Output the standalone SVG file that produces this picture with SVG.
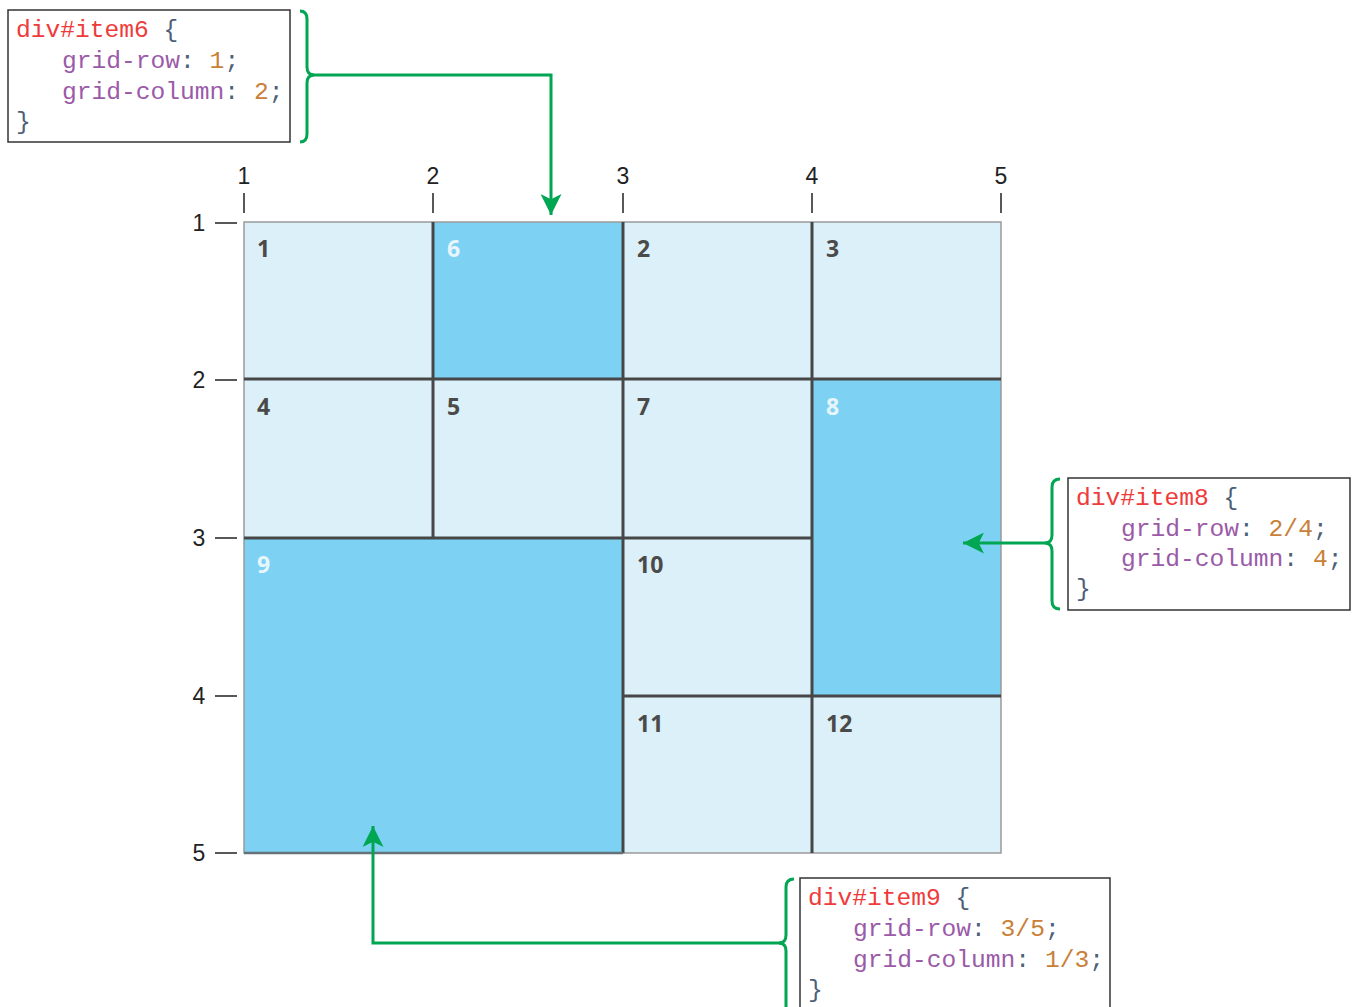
<svg xmlns="http://www.w3.org/2000/svg" width="1352" height="1007" viewBox="0 0 1352 1007">
<style>
.code{font-family:"Liberation Mono","DejaVu Sans Mono",monospace;font-size:24.6px}
.sel{fill:#ee3b3b}.prop{fill:#9b5aa8}.num{fill:#c98038}.pun{fill:#4e5f78}
.box{fill:#fff;stroke:#333;stroke-width:1.5}
.light{fill:#dbf0f8}.dark{fill:#7dd2f4}
.lbl{font-family:"Open Sans","DejaVu Sans",sans-serif;font-weight:bold;font-size:23px;fill:#4a4a4a}
.lblw{fill:#e8f6fc}
.ax{font-family:"Liberation Sans",Arial,sans-serif;font-size:23px;fill:#222}
.tick{stroke:#222;stroke-width:1.5}
.gl{stroke:#474747;stroke-width:3;fill:none}
.conn{stroke:#00a651;stroke-width:3;fill:none}
</style>
<defs>
<marker id="ah" viewBox="0 0 10 10" refX="10" refY="5" markerWidth="7" markerHeight="7" markerUnits="strokeWidth" orient="auto">
<path d="M0,0 L10,5 L0,10 L2.5,5 Z" fill="#00a651"/>
</marker>
</defs>
<g id="grid">
<rect class="light" x="244" y="222" width="757" height="631"/>
<rect class="dark" x="433" y="222" width="190" height="157"/>
<rect class="dark" x="812" y="379" width="189" height="317"/>
<rect class="dark" x="244" y="538" width="379" height="315"/>
<rect x="244" y="222" width="757" height="631" fill="none" stroke="#9a9a9a" stroke-width="1.5"/>
<path class="gl" d="M433,222 V538 M623,222 V853 M812,222 V853 M244,379 H1001 M244,538 H812 M623,696 H1001"/>
<path d="M244,853 H623" stroke="#66727a" stroke-width="2.5"/>
</g>
<g id="axes">
<text class="ax" x="244" y="184" text-anchor="middle">1</text>
<text class="ax" x="433" y="184" text-anchor="middle">2</text>
<text class="ax" x="623" y="184" text-anchor="middle">3</text>
<text class="ax" x="812" y="184" text-anchor="middle">4</text>
<text class="ax" x="1001" y="184" text-anchor="middle">5</text>
<path class="tick" d="M244,193 V213 M433,193 V213 M623,193 V213 M812,193 V213 M1001,193 V213"/>
<text class="ax" x="199" y="231" text-anchor="middle">1</text>
<text class="ax" x="199" y="388" text-anchor="middle">2</text>
<text class="ax" x="199" y="546" text-anchor="middle">3</text>
<text class="ax" x="199" y="704" text-anchor="middle">4</text>
<text class="ax" x="199" y="861" text-anchor="middle">5</text>
<path class="tick" d="M215,223 H237 M215,380 H237 M215,538 H237 M215,696 H237 M215,853 H237"/>
</g>
<g id="item1"><text class="lbl" x="257" y="257">1</text></g>
<g id="item6"><text class="lbl lblw" x="447" y="257">6</text></g>
<g id="item2"><text class="lbl" x="637" y="257">2</text></g>
<g id="item3"><text class="lbl" x="826" y="257">3</text></g>
<g id="item4"><text class="lbl" x="257" y="415">4</text></g>
<g id="item5"><text class="lbl" x="447" y="415">5</text></g>
<g id="item7"><text class="lbl" x="637" y="415">7</text></g>
<g id="item8"><text class="lbl lblw" x="826" y="415">8</text></g>
<g id="item9"><text class="lbl lblw" x="257" y="573">9</text></g>
<g id="item10"><text class="lbl" x="637" y="573">10</text></g>
<g id="item11"><text class="lbl" x="637" y="732">11</text></g>
<g id="item12"><text class="lbl" x="826" y="732">12</text></g>
<g id="code6">
<rect class="box" x="8" y="10" width="282" height="132"/>
<text class="code" x="16" y="37"><tspan class="sel">div#item6</tspan> <tspan class="pun">{</tspan></text>
<text class="code" x="62" y="68"><tspan class="prop">grid-row</tspan><tspan class="pun">:</tspan> <tspan class="num">1</tspan><tspan class="pun">;</tspan></text>
<text class="code" x="62" y="99"><tspan class="prop">grid-column</tspan><tspan class="pun">:</tspan> <tspan class="num">2</tspan><tspan class="pun">;</tspan></text>
<text class="code" x="16" y="129"><tspan class="pun">}</tspan></text>
</g>
<g id="code8">
<rect class="box" x="1068" y="478" width="282" height="132"/>
<text class="code" x="1076" y="505"><tspan class="sel">div#item8</tspan> <tspan class="pun">{</tspan></text>
<text class="code" x="1121" y="536"><tspan class="prop">grid-row</tspan><tspan class="pun">:</tspan> <tspan class="num">2/4</tspan><tspan class="pun">;</tspan></text>
<text class="code" x="1121" y="566"><tspan class="prop">grid-column</tspan><tspan class="pun">:</tspan> <tspan class="num">4</tspan><tspan class="pun">;</tspan></text>
<text class="code" x="1076" y="596"><tspan class="pun">}</tspan></text>
</g>
<g id="code9">
<rect class="box" x="800" y="878" width="310" height="135"/>
<text class="code" x="808" y="905"><tspan class="sel">div#item9</tspan> <tspan class="pun">{</tspan></text>
<text class="code" x="853" y="936"><tspan class="prop">grid-row</tspan><tspan class="pun">:</tspan> <tspan class="num">3/5</tspan><tspan class="pun">;</tspan></text>
<text class="code" x="853" y="967"><tspan class="prop">grid-column</tspan><tspan class="pun">:</tspan> <tspan class="num">1/3</tspan><tspan class="pun">;</tspan></text>
<text class="code" x="808" y="997"><tspan class="pun">}</tspan></text>
</g>
<g id="connectors">
<path class="conn" d="M300,11 Q307,11 307,19 L307,67 Q307,75 314,75 Q307,75 307,83 L307,134 Q307,142 300,142"/>
<path class="conn" d="M312,75 H551 V215" marker-end="url(#ah)"/>
<path class="conn" d="M1060,479 Q1052,479 1052,487 L1052,535 Q1052,543 1045,543 Q1052,543 1052,551 L1052,601 Q1052,609 1060,609"/>
<path class="conn" d="M1047,543 H963" marker-end="url(#ah)"/>
<path class="conn" d="M794,879 Q786,879 786,887 L786,935 Q786,943 779,943 Q786,943 786,951 L786,1007"/>
<path class="conn" d="M782,943 H373 V826" marker-end="url(#ah)"/>
</g>
</svg>
